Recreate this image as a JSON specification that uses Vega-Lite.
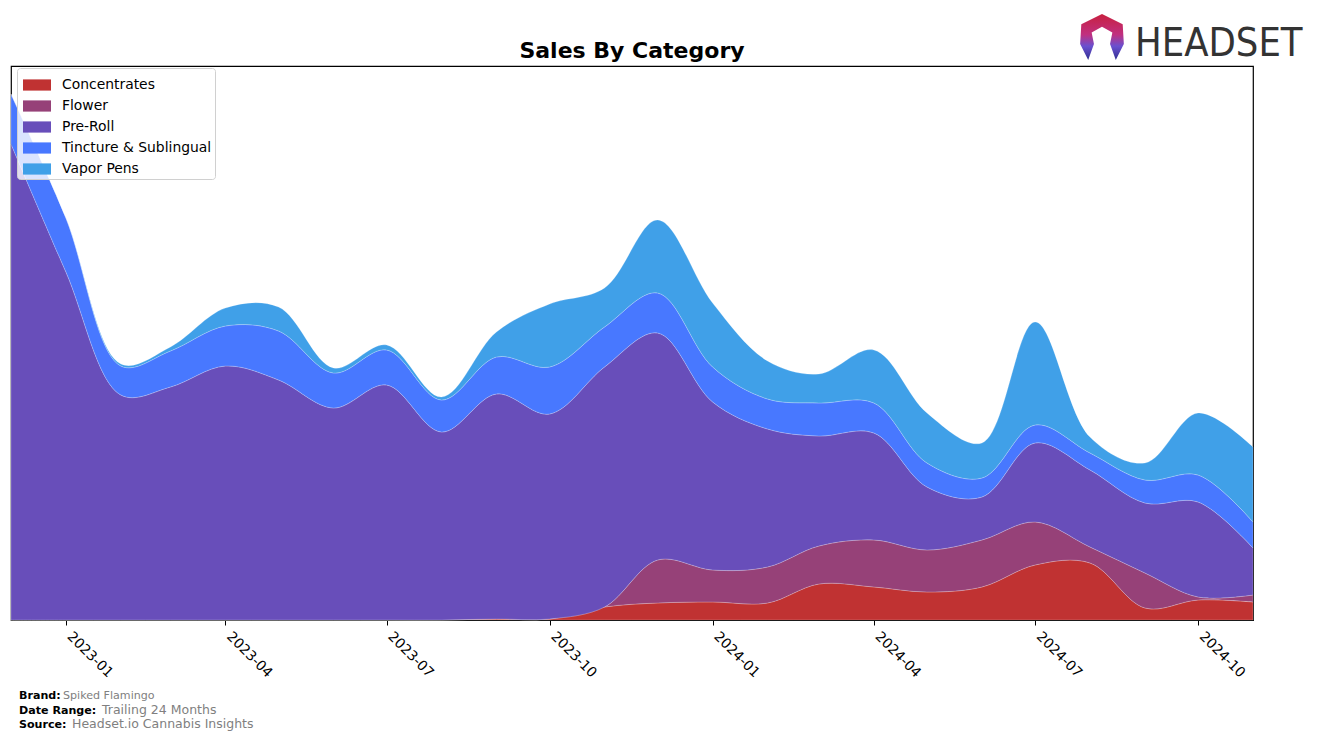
{
 "$schema": "https://vega.github.io/schema/vega-lite/v6.json",
 "width": 1242,
 "height": 554,
 "autosize": "none",
 "padding": {"left": 11, "top": 66, "right": 64, "bottom": 121},
 "background": "white",
 "config": {"view": {"stroke": "black", "strokeWidth": 1.2}, "font": "DejaVu Sans"},
 "title": {"text": "Sales By Category", "fontSize": 22, "fontWeight": "bold", "font": "DejaVu Sans", "color": "black", "anchor": "middle", "baseline": "alphabetic", "offset": -66},
 "layer": [
  {
   "data": {"values": [
    {"date": "2022-12-01", "category": "Concentrates", "value": 0},
    {"date": "2022-12-01", "category": "Flower", "value": 0},
    {"date": "2022-12-01", "category": "Pre-Roll", "value": 476},
    {"date": "2022-12-01", "category": "Tincture & Sublingual", "value": 50},
    {"date": "2022-12-01", "category": "Vapor Pens", "value": 0},
    {"date": "2023-01-01", "category": "Concentrates", "value": 0},
    {"date": "2023-01-01", "category": "Flower", "value": 0},
    {"date": "2023-01-01", "category": "Pre-Roll", "value": 348},
    {"date": "2023-01-01", "category": "Tincture & Sublingual", "value": 54},
    {"date": "2023-01-01", "category": "Vapor Pens", "value": 0},
    {"date": "2023-02-01", "category": "Concentrates", "value": 0},
    {"date": "2023-02-01", "category": "Flower", "value": 0},
    {"date": "2023-02-01", "category": "Pre-Roll", "value": 225},
    {"date": "2023-02-01", "category": "Tincture & Sublingual", "value": 29},
    {"date": "2023-02-01", "category": "Vapor Pens", "value": 2},
    {"date": "2023-03-01", "category": "Concentrates", "value": 0},
    {"date": "2023-03-01", "category": "Flower", "value": 0},
    {"date": "2023-03-01", "category": "Pre-Roll", "value": 233},
    {"date": "2023-03-01", "category": "Tincture & Sublingual", "value": 36},
    {"date": "2023-03-01", "category": "Vapor Pens", "value": 4},
    {"date": "2023-04-01", "category": "Concentrates", "value": 0},
    {"date": "2023-04-01", "category": "Flower", "value": 0},
    {"date": "2023-04-01", "category": "Pre-Roll", "value": 254},
    {"date": "2023-04-01", "category": "Tincture & Sublingual", "value": 40},
    {"date": "2023-04-01", "category": "Vapor Pens", "value": 18},
    {"date": "2023-05-01", "category": "Concentrates", "value": 0},
    {"date": "2023-05-01", "category": "Flower", "value": 0},
    {"date": "2023-05-01", "category": "Pre-Roll", "value": 240},
    {"date": "2023-05-01", "category": "Tincture & Sublingual", "value": 49},
    {"date": "2023-05-01", "category": "Vapor Pens", "value": 24},
    {"date": "2023-06-01", "category": "Concentrates", "value": 0},
    {"date": "2023-06-01", "category": "Flower", "value": 0},
    {"date": "2023-06-01", "category": "Pre-Roll", "value": 212},
    {"date": "2023-06-01", "category": "Tincture & Sublingual", "value": 35},
    {"date": "2023-06-01", "category": "Vapor Pens", "value": 5},
    {"date": "2023-07-01", "category": "Concentrates", "value": 0},
    {"date": "2023-07-01", "category": "Flower", "value": 0},
    {"date": "2023-07-01", "category": "Pre-Roll", "value": 235},
    {"date": "2023-07-01", "category": "Tincture & Sublingual", "value": 35},
    {"date": "2023-07-01", "category": "Vapor Pens", "value": 5},
    {"date": "2023-08-01", "category": "Concentrates", "value": 0},
    {"date": "2023-08-01", "category": "Flower", "value": 0},
    {"date": "2023-08-01", "category": "Pre-Roll", "value": 188},
    {"date": "2023-08-01", "category": "Tincture & Sublingual", "value": 32},
    {"date": "2023-08-01", "category": "Vapor Pens", "value": 3},
    {"date": "2023-09-01", "category": "Concentrates", "value": 1},
    {"date": "2023-09-01", "category": "Flower", "value": 0},
    {"date": "2023-09-01", "category": "Pre-Roll", "value": 225},
    {"date": "2023-09-01", "category": "Tincture & Sublingual", "value": 37},
    {"date": "2023-09-01", "category": "Vapor Pens", "value": 25},
    {"date": "2023-10-01", "category": "Concentrates", "value": 1},
    {"date": "2023-10-01", "category": "Flower", "value": 0},
    {"date": "2023-10-01", "category": "Pre-Roll", "value": 205},
    {"date": "2023-10-01", "category": "Tincture & Sublingual", "value": 47},
    {"date": "2023-10-01", "category": "Vapor Pens", "value": 63},
    {"date": "2023-11-01", "category": "Concentrates", "value": 13},
    {"date": "2023-11-01", "category": "Flower", "value": 0},
    {"date": "2023-11-01", "category": "Pre-Roll", "value": 240},
    {"date": "2023-11-01", "category": "Tincture & Sublingual", "value": 40},
    {"date": "2023-11-01", "category": "Vapor Pens", "value": 39},
    {"date": "2023-12-01", "category": "Concentrates", "value": 17},
    {"date": "2023-12-01", "category": "Flower", "value": 43},
    {"date": "2023-12-01", "category": "Pre-Roll", "value": 227},
    {"date": "2023-12-01", "category": "Tincture & Sublingual", "value": 40},
    {"date": "2023-12-01", "category": "Vapor Pens", "value": 73},
    {"date": "2024-01-01", "category": "Concentrates", "value": 18},
    {"date": "2024-01-01", "category": "Flower", "value": 32},
    {"date": "2024-01-01", "category": "Pre-Roll", "value": 168},
    {"date": "2024-01-01", "category": "Tincture & Sublingual", "value": 35},
    {"date": "2024-01-01", "category": "Vapor Pens", "value": 64},
    {"date": "2024-02-01", "category": "Concentrates", "value": 17},
    {"date": "2024-02-01", "category": "Flower", "value": 36},
    {"date": "2024-02-01", "category": "Pre-Roll", "value": 138},
    {"date": "2024-02-01", "category": "Tincture & Sublingual", "value": 30},
    {"date": "2024-02-01", "category": "Vapor Pens", "value": 38},
    {"date": "2024-03-01", "category": "Concentrates", "value": 36},
    {"date": "2024-03-01", "category": "Flower", "value": 38},
    {"date": "2024-03-01", "category": "Pre-Roll", "value": 110},
    {"date": "2024-03-01", "category": "Tincture & Sublingual", "value": 33},
    {"date": "2024-03-01", "category": "Vapor Pens", "value": 29},
    {"date": "2024-04-01", "category": "Concentrates", "value": 33},
    {"date": "2024-04-01", "category": "Flower", "value": 47},
    {"date": "2024-04-01", "category": "Pre-Roll", "value": 107},
    {"date": "2024-04-01", "category": "Tincture & Sublingual", "value": 30},
    {"date": "2024-04-01", "category": "Vapor Pens", "value": 53},
    {"date": "2024-05-01", "category": "Concentrates", "value": 28},
    {"date": "2024-05-01", "category": "Flower", "value": 42},
    {"date": "2024-05-01", "category": "Pre-Roll", "value": 63},
    {"date": "2024-05-01", "category": "Tincture & Sublingual", "value": 24},
    {"date": "2024-05-01", "category": "Vapor Pens", "value": 50},
    {"date": "2024-06-01", "category": "Concentrates", "value": 33},
    {"date": "2024-06-01", "category": "Flower", "value": 47},
    {"date": "2024-06-01", "category": "Pre-Roll", "value": 43},
    {"date": "2024-06-01", "category": "Tincture & Sublingual", "value": 19},
    {"date": "2024-06-01", "category": "Vapor Pens", "value": 35},
    {"date": "2024-07-01", "category": "Concentrates", "value": 55},
    {"date": "2024-07-01", "category": "Flower", "value": 43},
    {"date": "2024-07-01", "category": "Pre-Roll", "value": 79},
    {"date": "2024-07-01", "category": "Tincture & Sublingual", "value": 18},
    {"date": "2024-07-01", "category": "Vapor Pens", "value": 103},
    {"date": "2024-08-01", "category": "Concentrates", "value": 57},
    {"date": "2024-08-01", "category": "Flower", "value": 16},
    {"date": "2024-08-01", "category": "Pre-Roll", "value": 77},
    {"date": "2024-08-01", "category": "Tincture & Sublingual", "value": 17},
    {"date": "2024-08-01", "category": "Vapor Pens", "value": 16},
    {"date": "2024-09-01", "category": "Concentrates", "value": 12},
    {"date": "2024-09-01", "category": "Flower", "value": 35},
    {"date": "2024-09-01", "category": "Pre-Roll", "value": 70},
    {"date": "2024-09-01", "category": "Tincture & Sublingual", "value": 23},
    {"date": "2024-09-01", "category": "Vapor Pens", "value": 17},
    {"date": "2024-10-01", "category": "Concentrates", "value": 20},
    {"date": "2024-10-01", "category": "Flower", "value": 3},
    {"date": "2024-10-01", "category": "Pre-Roll", "value": 95},
    {"date": "2024-10-01", "category": "Tincture & Sublingual", "value": 27},
    {"date": "2024-10-01", "category": "Vapor Pens", "value": 62},
    {"date": "2024-11-01", "category": "Concentrates", "value": 18},
    {"date": "2024-11-01", "category": "Flower", "value": 7},
    {"date": "2024-11-01", "category": "Pre-Roll", "value": 47},
    {"date": "2024-11-01", "category": "Tincture & Sublingual", "value": 26},
    {"date": "2024-11-01", "category": "Vapor Pens", "value": 75}
   ]},
   "mark": {"type": "area", "interpolate": "catmull-rom", "stroke": "white", "strokeWidth": 0.6, "strokeOpacity": 0.35},
   "encoding": {
    "x": {"field": "date", "type": "temporal", "scale": {"type": "utc", "nice": false},
     "axis": {"values": [
       {"year": 2023, "month": 1, "date": 1, "utc": true},
       {"year": 2023, "month": 4, "date": 1, "utc": true},
       {"year": 2023, "month": 7, "date": 1, "utc": true},
       {"year": 2023, "month": 10, "date": 1, "utc": true},
       {"year": 2024, "month": 1, "date": 1, "utc": true},
       {"year": 2024, "month": 4, "date": 1, "utc": true},
       {"year": 2024, "month": 7, "date": 1, "utc": true},
       {"year": 2024, "month": 10, "date": 1, "utc": true}],
      "format": "%Y-%m", "labelAngle": 45, "labelAlign": "left", "labelBaseline": "middle",
      "labelFontSize": 13.9, "labelFont": "DejaVu Sans", "labelColor": "black", "labelPadding": 9, "labelOffset": 3,
      "tickColor": "black", "tickSize": 5, "domainColor": "black", "grid": false, "title": null,
      "labelOverlap": false, "labelFlush": false}},
    "y": {"field": "value", "type": "quantitative", "stack": "zero", "scale": {"domain": [0, 554], "nice": false}, "axis": null},
    "order": {"field": "category", "sort": "ascending"},
    "color": {"field": "category", "type": "nominal",
     "scale": {"domain": ["Concentrates", "Flower", "Pre-Roll", "Tincture & Sublingual", "Vapor Pens"],
               "range": ["#C03232", "#964178", "#684EBA", "#4878FF", "#40A0E8"]},
     "legend": {"title": null, "orient": "none", "legendX": 6, "legendY": 2, "fillColor": "rgba(255,255,255,0.8)", "strokeColor": "#d0d0d0",
      "cornerRadius": 3, "padding": 3, "symbolOffset": 3, "labelFontSize": 13.9, "labelFont": "DejaVu Sans", "labelColor": "black",
      "symbolType": "M-1,-0.4H1V0.4H-1Z", "symbolSize": 784, "symbolStrokeWidth": 0, "symbolOpacity": 1,
      "labelOffset": 11, "rowPadding": 0, "labelLimit": 300}}
   }
  },
  {"data": {"values": [{}]}, "mark": {"type": "text", "text": "Brand:", "x": 8, "y": 633, "align": "left", "baseline": "alphabetic", "fontWeight": "bold", "fontSize": 11.1, "font": "DejaVu Sans", "color": "black"}},
  {"data": {"values": [{}]}, "mark": {"type": "text", "text": "Spiked Flamingo", "x": 52, "y": 633, "align": "left", "baseline": "alphabetic", "fontSize": 11.1, "font": "DejaVu Sans", "color": "#808080"}},
  {"data": {"values": [{}]}, "mark": {"type": "text", "text": "Date Range:", "x": 8, "y": 648, "align": "left", "baseline": "alphabetic", "fontWeight": "bold", "fontSize": 11.1, "font": "DejaVu Sans", "color": "black"}},
  {"data": {"values": [{}]}, "mark": {"type": "text", "text": "Trailing 24 Months", "x": 91, "y": 648, "align": "left", "baseline": "alphabetic", "fontSize": 12.5, "font": "DejaVu Sans", "color": "#808080"}},
  {"data": {"values": [{}]}, "mark": {"type": "text", "text": "Source:", "x": 8, "y": 662, "align": "left", "baseline": "alphabetic", "fontWeight": "bold", "fontSize": 11.1, "font": "DejaVu Sans", "color": "black"}},
  {"data": {"values": [{}]}, "mark": {"type": "text", "text": "Headset.io Cannabis Insights", "x": 61, "y": 662, "align": "left", "baseline": "alphabetic", "fontSize": 12.5, "font": "DejaVu Sans", "color": "#808080"}},
  {"data": {"values": [{}]}, "mark": {"type": "text", "text": "HEADSET", "x": 1124, "y": -10, "align": "left", "baseline": "alphabetic", "fontSize": 39.5, "font": "Liberation Sans Narrow, DejaVu Sans Condensed, Liberation Sans", "color": "#333333"}},
  {"data": {"values": [{}]}, "mark": {"type": "point", "filled": true, "opacity": 1, "x": 1091, "y": -29, "size": 2116,
    "shape": "M0,-1L0.9,-0.55L0.95,0.3L0.6,1L0.35,0.3L0.45,-0.2L0,-0.45L-0.45,-0.2L-0.35,0.3L-0.6,1L-0.95,0.3L-0.9,-0.55Z",
    "color": {"gradient": "linear", "x1": 0, "y1": 0, "x2": 0, "y2": 1, "stops": [{"offset": 0, "color": "#c8203f"}, {"offset": 0.45, "color": "#c03080"}, {"offset": 0.7, "color": "#6a50d0"}, {"offset": 1, "color": "#303090"}]}}}
 ]
}
